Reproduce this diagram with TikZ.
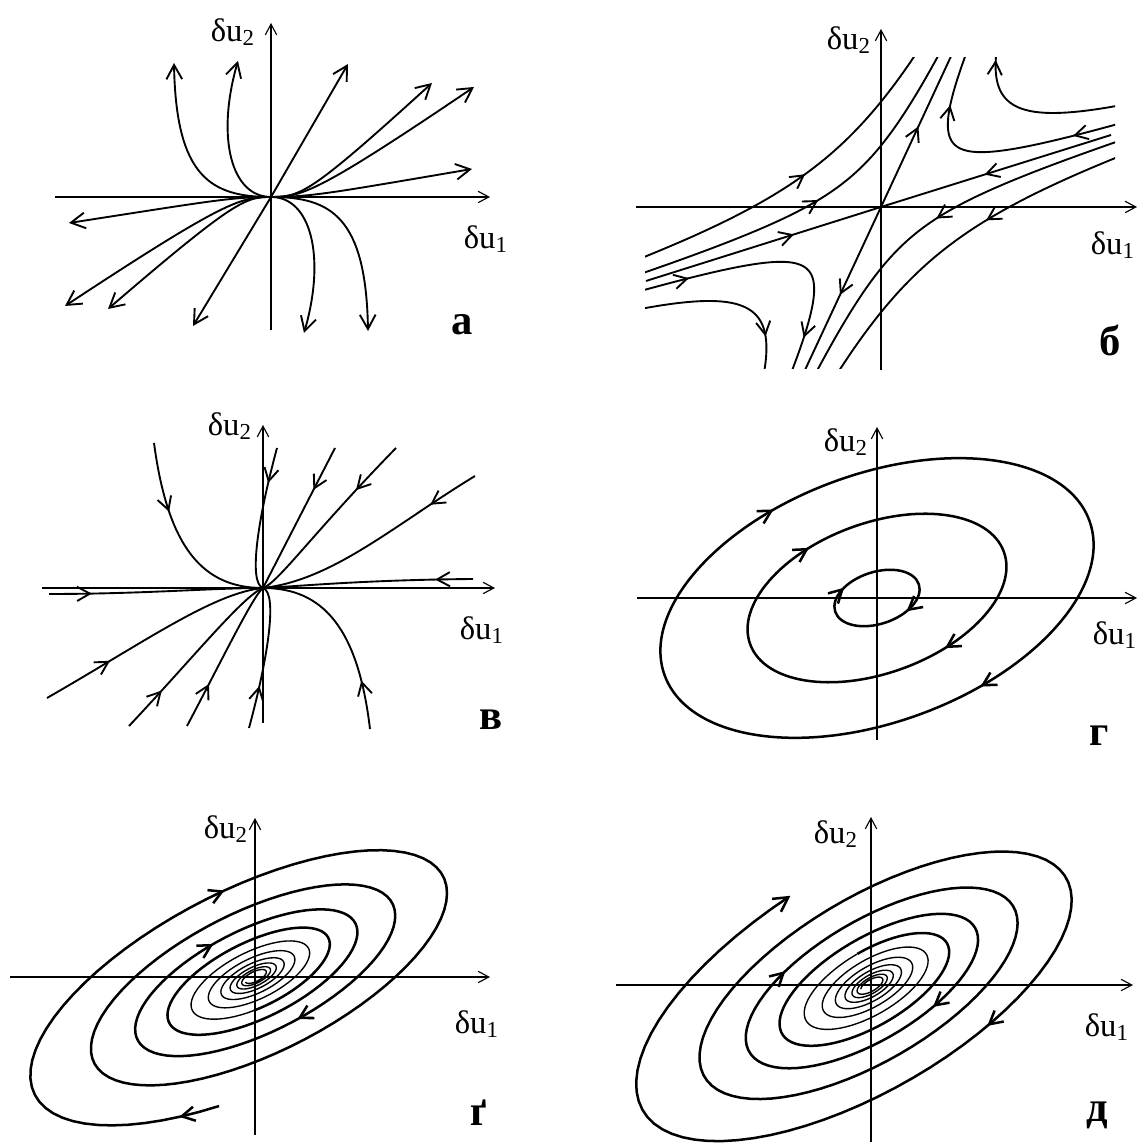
\documentclass[tikz,border=0pt]{standalone}
\usepackage{fontspec}
\setmainfont{Liberation Serif}
\usetikzlibrary{arrows.meta,decorations.markings}

\tikzset{
  axis/.style={line width=0.45pt, -{Straight Barb[length=1.5mm,width=1.6mm]}},
  traj/.style={line width=0.75pt},
  orbit/.style={line width=1pt},
  outarr/.style={-{Straight Barb[length=2mm,width=2.2mm]}},
  flow/.style={postaction={decorate,decoration={markings,
      mark=at position #1 with {\arrow{Straight Barb[length=1.8mm,width=2mm]}}}}},
  rflow/.style={postaction={decorate,decoration={markings,
      mark=at position #1 with {\arrowreversed{Straight Barb[length=1.8mm,width=2mm]}}}}},
  axlabel/.style={font=\fontsize{13}{15}\selectfont, inner sep=1pt},
  panellabel/.style={font=\fontsize{17}{20}\selectfont\bfseries, inner sep=1pt}
}

\begin{document}
\begin{tikzpicture}[x=0.014cm, y=0.014cm]
\useasboundingbox (0,0) rectangle (1144,1144);

% --- а: unstable node
\begin{scope}[shift={(271,947)}]
  \draw[axis] (-216,0) -- (219,0);
  \draw[axis] (0,-133) -- (0,174);
  \node[axlabel] (a-u2) at (-38,165) {δu\textsubscript{2}};
  \node[axlabel] (a-u1) at (215,-42) {δu\textsubscript{1}};
  \node[panellabel] (a-lab) at (191,-128) {а};
  \draw[traj,outarr] (0,0) .. controls (-60,0) and (-95,20) .. (-97,134);
  \draw[traj,outarr] (0,0) .. controls (-40,0) and (-55,60) .. (-33,136);
  \draw[traj,outarr] (0,0) .. controls (40,0) and (55,-60) .. (33,-136);
  \draw[traj,outarr] (0,0) .. controls (60,0) and (95,-20) .. (97,-134);
  \draw[traj,outarr] (0,0) -- (77,133);
  \draw[traj,outarr] (0,0) -- (-78,-129);
  \draw[traj,outarr] (0,0) .. controls (30,0) and (40,4) .. (161,114);
  \draw[traj,outarr] (0,0) .. controls (30,0) and (45,3) .. (203,110);
  \draw[traj,outarr] (0,0) .. controls (40,0) and (60,4) .. (201,28);
  \draw[traj,outarr] (0,0) .. controls (-30,0) and (-45,-3) .. (-206,-109);
  \draw[traj,outarr] (0,0) .. controls (-25,0) and (-35,-2) .. (-163,-112);
  \draw[traj,outarr] (0,0) .. controls (-40,0) and (-60,-4) .. (-202,-26);
\end{scope}

% --- б: saddle
\begin{scope}[shift={(881,937)}]
  \draw[axis] (-245,0) -- (256,0);
  \draw[axis] (0,-163) -- (0,178);
  \node[axlabel] (b-u2) at (-32,167) {δu\textsubscript{2}};
  \node[axlabel] (b-u1) at (232,-38) {δu\textsubscript{1}};
  \node[panellabel] (b-lab) at (229,-133) {б};
  \begin{scope}
    \clip (-236,-162) rectangle (234,149);
    \draw[traj,flow=0.55] (230,72) -- (0,0);
    \draw[traj,flow=0.63] (-235,-74) -- (0,0);
    \draw[traj,flow=0.52] (0,0) -- (72,155);
    \draw[traj,flow=0.54] (0,0) -- (-76,-163);
    \draw[traj,flow=0.51] plot[domain=-1.15:0.8,samples=60,variable=\t]
      ({-84*exp(-\t)+39.06*exp(\t)},{-26.29*exp(-\t)+84*exp(\t)});
    \draw[traj,flow=0.5] plot[domain=-1.7:1.3,samples=80,variable=\t]
      ({-49*exp(-\t)+22.79*exp(\t)},{-15.34*exp(-\t)+49*exp(\t)});
    \draw[traj,flow=0.42] plot[domain=-1.15:0.8,samples=60,variable=\t]
      ({84*exp(-\t)-39.06*exp(\t)},{26.29*exp(-\t)-84*exp(\t)});
    \draw[traj,flow=0.52] plot[domain=-1.7:1.3,samples=80,variable=\t]
      ({49*exp(-\t)-22.79*exp(\t)},{15.34*exp(-\t)-49*exp(\t)});
    \draw[traj,flow=0.11,flow=0.72] plot[domain=-1.15:0.8,samples=60,variable=\t]
      ({-84*exp(-\t)-39.06*exp(\t)},{-26.29*exp(-\t)-84*exp(\t)});
    \draw[traj,flow=0.25,flow=0.83] plot[domain=-1.7:1.3,samples=80,variable=\t]
      ({-49*exp(-\t)-22.79*exp(\t)},{-15.34*exp(-\t)-49*exp(\t)});
    \draw[traj,flow=0.11,flow=0.79] plot[domain=-1.15:0.8,samples=60,variable=\t]
      ({84*exp(-\t)+39.06*exp(\t)},{26.29*exp(-\t)+84*exp(\t)});
    \draw[traj,flow=0.25,flow=0.74] plot[domain=-1.7:1.3,samples=80,variable=\t]
      ({49*exp(-\t)+22.79*exp(\t)},{15.34*exp(-\t)+49*exp(\t)});
  \end{scope}
\end{scope}

% --- в: stable node
\begin{scope}[shift={(263,556)}]
  \draw[axis] (-221,0) -- (232,0);
  \draw[axis] (0,-135) -- (0,163);
  \node[axlabel] (c-u2) at (-33,162) {δu\textsubscript{2}};
  \node[axlabel] (c-u1) at (219,-42) {δu\textsubscript{1}};
  \node[panellabel] (c-lab) at (228,-132) {в};
  \draw[traj,flow=0.2] (-214,-6) .. controls (-120,-6) and (-50,0) .. (0,0);
  \draw[traj,flow=0.18] (210,9) .. controls (100,8) and (40,2) .. (0,0);
  \draw[traj,flow=0.35] (-109,145) .. controls (-95,40) and (-60,0) .. (0,0);
  \draw[traj,flow=0.25] (107,-141) .. controls (95,-40) and (60,0) .. (0,0);
  \draw[traj,flow=0.25] (14,140) .. controls (-5,70) and (-15,5) .. (0,0);
  \draw[traj,flow=0.3] (-14,-140) .. controls (5,-70) and (15,-5) .. (0,0);
  \draw[traj,flow=0.3] (72,140) -- (0,0);
  \draw[traj,flow=0.3] (133,140) .. controls (50,55) and (15,5) .. (0,0);
  \draw[traj,flow=0.22] (212,112) .. controls (130,62) and (70,8) .. (0,0);
  \draw[traj,flow=0.3] (-216,-110) .. controls (-120,-55) and (-50,-5) .. (0,0);
  \draw[traj,flow=0.25] (-134,-138) .. controls (-70,-70) and (-20,-8) .. (0,0);
  \draw[traj,flow=0.3] (-76,-138) .. controls (-40,-70) and (-10,-8) .. (0,0);
\end{scope}

% --- г: centre
\begin{scope}[shift={(877,546)}]
  \draw[axis] (-240,0) -- (260,0);
  \draw[axis] (0,-142) -- (0,171);
  \node[axlabel] (d-u2) at (-31,156) {δu\textsubscript{2}};
  \node[axlabel] (d-u1) at (238,-37) {δu\textsubscript{1}};
  \node[panellabel] (d-lab) at (222,-138) {г};
  \draw[orbit,rflow=0.31,rflow=0.81,rotate=20] (0,0) ellipse [x radius=226,y radius=124];
  \draw[orbit,rflow=0.32,rflow=0.82,rotate=20] (0,0) ellipse [x radius=135,y radius=75];
  \draw[orbit,rflow=0.38,rflow=0.86,rotate=18] (0,0) ellipse [x radius=44,y radius=26];
\end{scope}

% --- ґ: stable focus
\begin{scope}[shift={(255,167)}]
  \draw[axis] (-245,0) -- (235,0);
  \draw[axis] (0,-158) -- (0,159);
  \node[axlabel] (e-u2) at (-29,148) {δu\textsubscript{2}};
  \node[axlabel] (e-u1) at (222,-47) {δu\textsubscript{1}};
  \node[panellabel] (e-lab) at (224,-136) {ґ};
  \begin{scope}[rotate=27]
    \draw[orbit,flow=0.015,flow=0.18,flow=0.63,flow=0.74]
      plot[domain=0:25,samples=300,variable=\t]
      ({exp(-0.05*\t)*265*cos(250-deg(\t))},{exp(-0.05*\t)*105*sin(250-deg(\t))});
    \draw[line width=0.55pt] plot[domain=25:64,samples=400,variable=\t]
      ({exp(-0.05*\t)*265*cos(250-deg(\t))},{exp(-0.05*\t)*105*sin(250-deg(\t))});
  \end{scope}
\end{scope}

% --- д: unstable focus
\begin{scope}[shift={(871,159)}]
  \draw[axis] (-255,0) -- (262,0);
  \draw[axis] (0,-157) -- (0,168);
  \node[axlabel] (f-u2) at (-35,151) {δu\textsubscript{2}};
  \node[axlabel] (f-u1) at (236,-42) {δu\textsubscript{1}};
  \node[panellabel] (f-lab) at (226,-130) {д};
  \begin{scope}[rotate=30]
    \draw[line width=0.55pt] plot[domain=64:25,samples=400,variable=\t]
      ({exp(-0.05*\t)*280*cos(95+deg(\t))},{exp(-0.05*\t)*118*sin(95+deg(\t))});
    \draw[orbit,outarr,flow=0.226,flow=0.327,flow=0.776]
      plot[domain=25:0,samples=300,variable=\t]
      ({exp(-0.05*\t)*280*cos(95+deg(\t))},{exp(-0.05*\t)*118*sin(95+deg(\t))});
  \end{scope}
\end{scope}

\end{tikzpicture}
\end{document}
